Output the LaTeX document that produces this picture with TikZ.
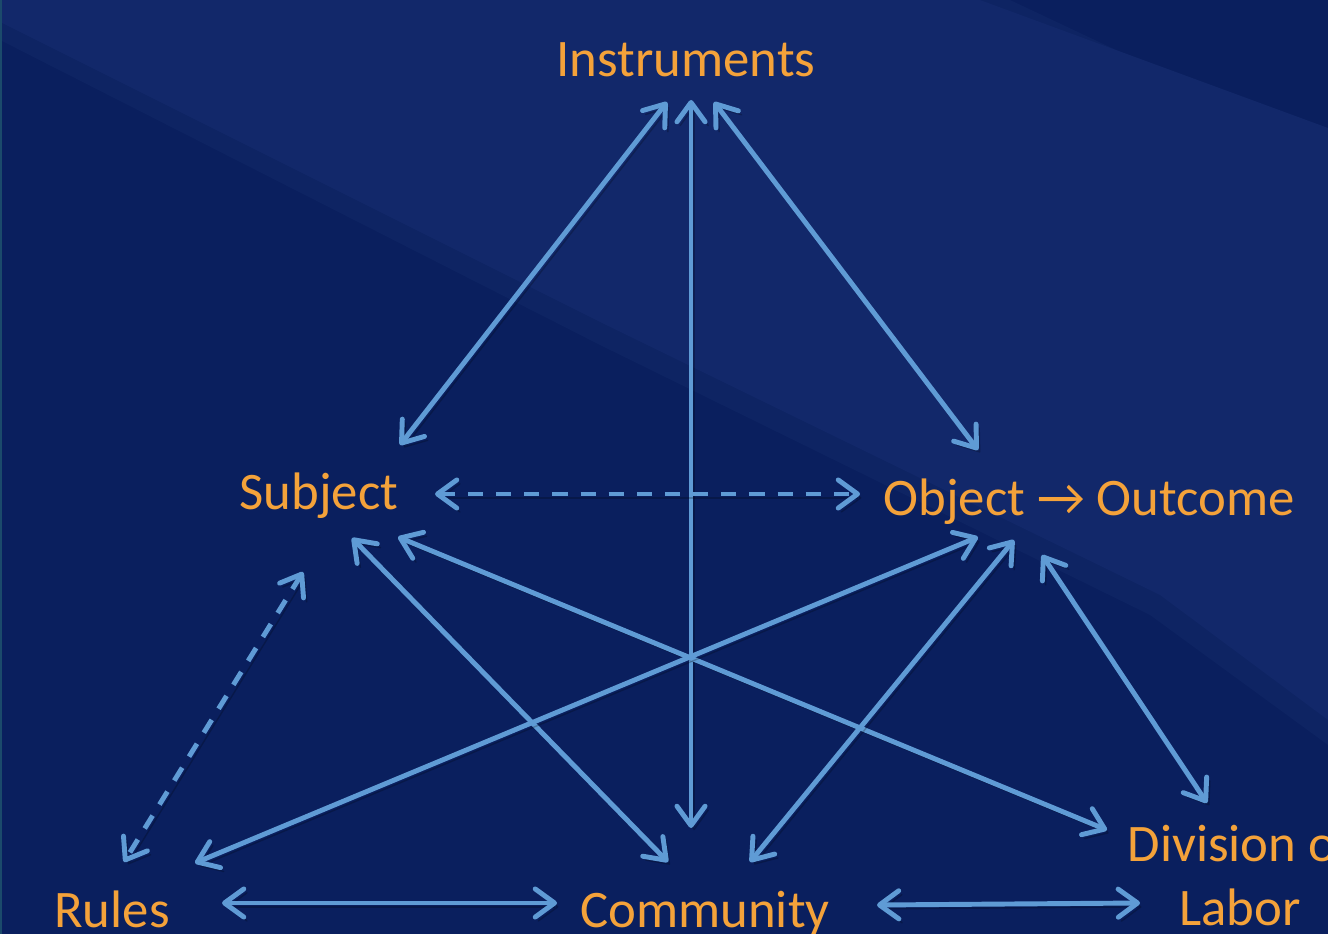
\documentclass[tikz,border=0pt]{standalone}
\usepackage{fontspec}
\setmainfont{Carlito}
\usetikzlibrary{arrows.meta}
\definecolor{bgdark}{HTML}{0A1F5E}
\definecolor{bgmid}{HTML}{0E2463}
\definecolor{bglight}{HTML}{12286A}
\definecolor{bgedge}{HTML}{1B4A6B}
\definecolor{arrowblue}{HTML}{5F9BD5}
\definecolor{labelorange}{HTML}{F4A23A}
\tikzset{
  lbl/.style={text=labelorange, font=\fontsize{15}{18}\selectfont, inner sep=0pt},
  link/.style={draw=arrowblue, line width=1.4pt, line cap=round,
    {Straight Barb[length=5.5pt,width=8pt,round]}-{Straight Barb[length=5.5pt,width=8pt,round]},
    preaction={draw=black, opacity=.22, transform canvas={shift={(.9pt,-1.1pt)}}}},
  dlink/.style={link, line cap=butt, dash pattern=on 4.3pt off 3.7pt}
}
\begin{document}
\begin{tikzpicture}[x=0.01cm,y=-0.01cm]
\useasboundingbox (0,0) rectangle (1328,934);
\fill[bgdark] (0,0) rectangle (1328,934);
\fill[bgmid] (0,0) -- (1010,0) -- (1328,150) -- (1328,745) -- (1150,615) -- (600,345) -- (0,40) -- cycle;
\fill[bglight] (0,0) -- (980,0) -- (1328,128) -- (1328,720) -- (1160,595) -- (600,322) -- (0,22) -- cycle;
\fill[bgedge] (0,0) rectangle (2,934);

\node[lbl, anchor=base] (instr) at (686,77) {Instruments};
\node[lbl, anchor=base] (subj) at (319,510) {Subject};
\node[lbl, anchor=base west] (obj) at (883,515) {Object → Outcome};
\node[lbl, anchor=base] (rules) at (112,927) {Rules};
\node[lbl, anchor=base] (comm) at (705,927) {Community};
\node[lbl, anchor=base, align=center] (div) at (1240,925) {Division of\\Labor};

\coordinate[] (I1) at (667,102);
\coordinate[] (I2) at (691,100);
\coordinate[] (I3) at (714,102);
\coordinate[] (S1) at (400,445);
\coordinate[] (S2) at (435,494);
\coordinate[] (S3) at (303,572);
\coordinate[] (S4) at (352,538);
\coordinate[] (S5) at (398,537);
\coordinate[] (O1) at (978,450);
\coordinate[] (O2) at (860,494);
\coordinate[] (O3) at (978,537);
\coordinate[] (O4) at (1014,540);
\coordinate[] (O5) at (1042,555);
\coordinate[] (R1) at (124,862);
\coordinate[] (R2) at (195,863);
\coordinate[] (R3) at (222,903);
\coordinate[] (C1) at (691,828);
\coordinate[] (C2) at (668,862);
\coordinate[] (C3) at (750,862);
\coordinate[] (C4) at (557,903);
\coordinate[] (C5) at (877,905);
\coordinate[] (D1) at (1107,830);
\coordinate[] (D2) at (1207,803);
\coordinate[] (D3) at (1140,903);

\draw[link] (S1) -- (I1);
\draw[link] (I2) -- (C1);
\draw[link] (I3) -- (O1);
\draw[dlink] (S2) -- (O2);
\draw[dlink] (S3) -- (R1);
\draw[link] (S4) -- (C2);
\draw[link] (S5) -- (D1);
\draw[link] (O3) -- (R2);
\draw[link] (O4) -- (C3);
\draw[link] (O5) -- (D2);
\draw[link] (R3) -- (C4);
\draw[link] (C5) -- (D3);
\end{tikzpicture}
\end{document}
